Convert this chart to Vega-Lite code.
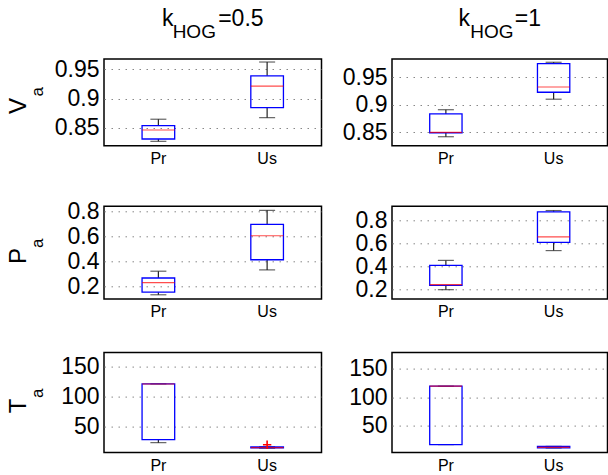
{
  "$schema": "https://vega.github.io/schema/vega-lite/v6.json",
  "background": "white",
  "padding": {"left": 6, "top": 7, "right": 0, "bottom": 0},
  "config": {
    "font": "Liberation Sans",
    "view": {"stroke": "black", "strokeWidth": 1.5},
    "axisY": {"labelFontSize": 23, "labelColor": "black", "labelFont": "Liberation Sans", "labelPadding": 5, "domain": false, "ticks": false, "grid": true, "gridColor": "#888888", "gridDash": [1.5, 5.5], "gridWidth": 1},
    "axisX": {"labelFontSize": 16, "labelColor": "black", "labelFont": "Liberation Sans", "labelPadding": 5, "domain": false, "ticks": false, "grid": false, "labelAngle": 0}
  },
  "datasets": {
    "box": [
      {"m": "V", "k": 0.5, "g": "Pr", "lo": 0.8265, "q1": 0.8305, "med": 0.846, "q3": 0.8534, "hi": 0.8645},
      {"m": "V", "k": 0.5, "g": "Us", "lo": 0.8672, "q1": 0.8845, "med": 0.9214, "q3": 0.939, "hi": 0.9628},
      {"m": "V", "k": 1, "g": "Pr", "lo": 0.8414, "q1": 0.8487, "med": 0.8494, "q3": 0.883, "hi": 0.8908},
      {"m": "V", "k": 1, "g": "Us", "lo": 0.91, "q1": 0.9227, "med": 0.9323, "q3": 0.975, "hi": 0.9775},
      {"m": "P", "k": 0.5, "g": "Pr", "lo": 0.133, "q1": 0.154, "med": 0.23, "q3": 0.267, "hi": 0.3215},
      {"m": "P", "k": 0.5, "g": "Us", "lo": 0.332, "q1": 0.413, "med": 0.605, "q3": 0.696, "hi": 0.808},
      {"m": "P", "k": 1, "g": "Pr", "lo": 0.2, "q1": 0.237, "med": 0.243, "q3": 0.411, "hi": 0.454},
      {"m": "P", "k": 1, "g": "Us", "lo": 0.539, "q1": 0.61, "med": 0.657, "q3": 0.875, "hi": 0.886},
      {"m": "T", "k": 0.5, "g": "Pr", "lo": 23.3, "q1": 28.3, "med": 121, "q3": 121.2, "hi": 121.2},
      {"m": "T", "k": 0.5, "g": "Us", "lo": 14, "q1": 14.5, "med": 15, "q3": 16, "hi": 16.5},
      {"m": "T", "k": 1, "g": "Pr", "lo": 17.2, "q1": 17.2, "med": 119.3, "q3": 119.3, "hi": 119.3},
      {"m": "T", "k": 1, "g": "Us", "lo": 11.3, "q1": 11.3, "med": 12.5, "q3": 14, "hi": 14}
    ],
    "out": [
      {"m": "T", "k": 0.5, "g": "Us", "v": 19.7}
    ]
  },
  "columns": 3,
  "bounds": "flush",
  "align": "each",
  "spacing": {"row": 53.3, "column": 70},
  "concat": [
    {
      "width": 1, "height": 94, "view": {"stroke": null},
      "title": {"text": "\u200b\u00a0V\u00a0\u200b", "subtitle": "\u200b\u00a0\u00a0\u00a0\u00a0\u00a0\u00a0a", "orient": "left", "anchor": "middle", "fontSize": 24, "subtitleFontSize": 17, "font": "Liberation Sans", "subtitleFont": "Liberation Sans", "fontWeight": "normal", "color": "black", "subtitleColor": "black", "offset": -12.5, "subtitlePadding": -1},
      "data": {"values": [{}]},
      "mark": {"type": "text"},
      "encoding": {}
    },
    {
      "width": 217.5, "height": 86.7,
      "title": {"text": "k\u00a0\u00a0\u00a0\u00a0\u00a0\u00a0\u00a0=0.5", "subtitle": "HOG\u00a0\u00a0\u00a0\u00a0\u00a0\u00a0\u00a0\u200b", "frame": "group", "fontSize": 23, "subtitleFontSize": 19, "font": "Liberation Sans", "subtitleFont": "Liberation Sans", "fontWeight": "normal", "color": "black", "subtitleColor": "black", "anchor": "middle", "subtitlePadding": -8, "offset": 16.6},
      "data": {"name": "box"},
      "transform": [{"filter": "datum.m === 'V' && datum.k === 0.5"}],
      "encoding": {"x": {"field": "g", "type": "nominal", "title": null, "scale": {"type": "band", "paddingInner": 0, "paddingOuter": 0, "domain": ["Pr", "Us"]}}},
      "layer": [
        {"mark": {"type": "rule", "color": "#222222", "strokeWidth": 1.2}, "encoding": {"y": {"field": "lo", "type": "quantitative", "title": null, "scale": {"domain": [0.819, 0.968], "nice": false, "zero": false}, "axis": {"values": [0.85, 0.9, 0.95], "format": "~r"}}, "y2": {"field": "q1"}}},
        {"mark": {"type": "rule", "color": "#222222", "strokeWidth": 1.2}, "encoding": {"y": {"field": "q3", "type": "quantitative", "title": null, "scale": {"domain": [0.819, 0.968], "nice": false, "zero": false}, "axis": {"values": [0.85, 0.9, 0.95], "format": "~r"}}, "y2": {"field": "hi"}}},
        {"mark": {"type": "tick", "color": "#222222", "size": 16, "thickness": 1.2}, "encoding": {"y": {"field": "lo", "type": "quantitative", "title": null, "scale": {"domain": [0.819, 0.968], "nice": false, "zero": false}, "axis": {"values": [0.85, 0.9, 0.95], "format": "~r"}}}},
        {"mark": {"type": "tick", "color": "#222222", "size": 16, "thickness": 1.2}, "encoding": {"y": {"field": "hi", "type": "quantitative", "title": null, "scale": {"domain": [0.819, 0.968], "nice": false, "zero": false}, "axis": {"values": [0.85, 0.9, 0.95], "format": "~r"}}}},
        {"mark": {"type": "bar", "width": {"band": 0.3}, "fillOpacity": 0, "stroke": "#0000ff", "strokeWidth": 1.3}, "encoding": {"y": {"field": "q1", "type": "quantitative", "title": null, "scale": {"domain": [0.819, 0.968], "nice": false, "zero": false}, "axis": {"values": [0.85, 0.9, 0.95], "format": "~r"}}, "y2": {"field": "q3"}}},
        {"mark": {"type": "tick", "color": "#ff0000", "size": 32.6, "thickness": 1.2}, "encoding": {"y": {"field": "med", "type": "quantitative", "title": null, "scale": {"domain": [0.819, 0.968], "nice": false, "zero": false}, "axis": {"values": [0.85, 0.9, 0.95], "format": "~r"}}}}
      ]
    },
    {
      "width": 215.5, "height": 86.7,
      "title": {"text": "k\u00a0\u00a0\u00a0\u00a0\u00a0\u00a0\u00a0=1", "subtitle": "HOG\u00a0\u00a0\u00a0\u200b", "frame": "group", "fontSize": 23, "subtitleFontSize": 19, "font": "Liberation Sans", "subtitleFont": "Liberation Sans", "fontWeight": "normal", "color": "black", "subtitleColor": "black", "anchor": "middle", "subtitlePadding": -8, "offset": 16.6},
      "data": {"name": "box"},
      "transform": [{"filter": "datum.m === 'V' && datum.k === 1"}],
      "encoding": {"x": {"field": "g", "type": "nominal", "title": null, "scale": {"type": "band", "paddingInner": 0, "paddingOuter": 0, "domain": ["Pr", "Us"]}}},
      "layer": [
        {"mark": {"type": "rule", "color": "#222222", "strokeWidth": 1.2}, "encoding": {"y": {"field": "lo", "type": "quantitative", "title": null, "scale": {"domain": [0.825, 0.9835], "nice": false, "zero": false}, "axis": {"values": [0.85, 0.9, 0.95], "format": "~r"}}, "y2": {"field": "q1"}}},
        {"mark": {"type": "rule", "color": "#222222", "strokeWidth": 1.2}, "encoding": {"y": {"field": "q3", "type": "quantitative", "title": null, "scale": {"domain": [0.825, 0.9835], "nice": false, "zero": false}, "axis": {"values": [0.85, 0.9, 0.95], "format": "~r"}}, "y2": {"field": "hi"}}},
        {"mark": {"type": "tick", "color": "#222222", "size": 16, "thickness": 1.2}, "encoding": {"y": {"field": "lo", "type": "quantitative", "title": null, "scale": {"domain": [0.825, 0.9835], "nice": false, "zero": false}, "axis": {"values": [0.85, 0.9, 0.95], "format": "~r"}}}},
        {"mark": {"type": "tick", "color": "#222222", "size": 16, "thickness": 1.2}, "encoding": {"y": {"field": "hi", "type": "quantitative", "title": null, "scale": {"domain": [0.825, 0.9835], "nice": false, "zero": false}, "axis": {"values": [0.85, 0.9, 0.95], "format": "~r"}}}},
        {"mark": {"type": "bar", "width": {"band": 0.3}, "fillOpacity": 0, "stroke": "#0000ff", "strokeWidth": 1.3}, "encoding": {"y": {"field": "q1", "type": "quantitative", "title": null, "scale": {"domain": [0.825, 0.9835], "nice": false, "zero": false}, "axis": {"values": [0.85, 0.9, 0.95], "format": "~r"}}, "y2": {"field": "q3"}}},
        {"mark": {"type": "tick", "color": "#ff0000", "size": 32.3, "thickness": 1.2}, "encoding": {"y": {"field": "med", "type": "quantitative", "title": null, "scale": {"domain": [0.825, 0.9835], "nice": false, "zero": false}, "axis": {"values": [0.85, 0.9, 0.95], "format": "~r"}}}}
      ]
    },
    {
      "width": 1, "height": 92.6, "view": {"stroke": null},
      "title": {"text": "P\u00a0\u200b", "subtitle": "\u200b\u00a0\u00a0\u00a0\u00a0a", "orient": "left", "anchor": "middle", "fontSize": 24, "subtitleFontSize": 17, "font": "Liberation Sans", "subtitleFont": "Liberation Sans", "fontWeight": "normal", "color": "black", "subtitleColor": "black", "offset": -12.5, "subtitlePadding": -1},
      "data": {"values": [{}]},
      "mark": {"type": "text"},
      "encoding": {}
    },
    {
      "width": 217.5, "height": 92.6,
      "data": {"name": "box"},
      "transform": [{"filter": "datum.m === 'P' && datum.k === 0.5"}],
      "encoding": {"x": {"field": "g", "type": "nominal", "title": null, "scale": {"type": "band", "paddingInner": 0, "paddingOuter": 0, "domain": ["Pr", "Us"]}}},
      "layer": [
        {"mark": {"type": "rule", "color": "#222222", "strokeWidth": 1.2}, "encoding": {"y": {"field": "lo", "type": "quantitative", "title": null, "scale": {"domain": [0.1, 0.8405], "nice": false, "zero": false}, "axis": {"values": [0.2, 0.4, 0.6, 0.8], "format": "~r"}}, "y2": {"field": "q1"}}},
        {"mark": {"type": "rule", "color": "#222222", "strokeWidth": 1.2}, "encoding": {"y": {"field": "q3", "type": "quantitative", "title": null, "scale": {"domain": [0.1, 0.8405], "nice": false, "zero": false}, "axis": {"values": [0.2, 0.4, 0.6, 0.8], "format": "~r"}}, "y2": {"field": "hi"}}},
        {"mark": {"type": "tick", "color": "#222222", "size": 16, "thickness": 1.2}, "encoding": {"y": {"field": "lo", "type": "quantitative", "title": null, "scale": {"domain": [0.1, 0.8405], "nice": false, "zero": false}, "axis": {"values": [0.2, 0.4, 0.6, 0.8], "format": "~r"}}}},
        {"mark": {"type": "tick", "color": "#222222", "size": 16, "thickness": 1.2}, "encoding": {"y": {"field": "hi", "type": "quantitative", "title": null, "scale": {"domain": [0.1, 0.8405], "nice": false, "zero": false}, "axis": {"values": [0.2, 0.4, 0.6, 0.8], "format": "~r"}}}},
        {"mark": {"type": "bar", "width": {"band": 0.3}, "fillOpacity": 0, "stroke": "#0000ff", "strokeWidth": 1.3}, "encoding": {"y": {"field": "q1", "type": "quantitative", "title": null, "scale": {"domain": [0.1, 0.8405], "nice": false, "zero": false}, "axis": {"values": [0.2, 0.4, 0.6, 0.8], "format": "~r"}}, "y2": {"field": "q3"}}},
        {"mark": {"type": "tick", "color": "#ff0000", "size": 32.6, "thickness": 1.2}, "encoding": {"y": {"field": "med", "type": "quantitative", "title": null, "scale": {"domain": [0.1, 0.8405], "nice": false, "zero": false}, "axis": {"values": [0.2, 0.4, 0.6, 0.8], "format": "~r"}}}}
      ]
    },
    {
      "width": 215.5, "height": 92.6,
      "data": {"name": "box"},
      "transform": [{"filter": "datum.m === 'P' && datum.k === 1"}],
      "encoding": {"x": {"field": "g", "type": "nominal", "title": null, "scale": {"type": "band", "paddingInner": 0, "paddingOuter": 0, "domain": ["Pr", "Us"]}}},
      "layer": [
        {"mark": {"type": "rule", "color": "#222222", "strokeWidth": 1.2}, "encoding": {"y": {"field": "lo", "type": "quantitative", "title": null, "scale": {"domain": [0.12, 0.923], "nice": false, "zero": false}, "axis": {"values": [0.2, 0.4, 0.6, 0.8], "format": "~r"}}, "y2": {"field": "q1"}}},
        {"mark": {"type": "rule", "color": "#222222", "strokeWidth": 1.2}, "encoding": {"y": {"field": "q3", "type": "quantitative", "title": null, "scale": {"domain": [0.12, 0.923], "nice": false, "zero": false}, "axis": {"values": [0.2, 0.4, 0.6, 0.8], "format": "~r"}}, "y2": {"field": "hi"}}},
        {"mark": {"type": "tick", "color": "#222222", "size": 16, "thickness": 1.2}, "encoding": {"y": {"field": "lo", "type": "quantitative", "title": null, "scale": {"domain": [0.12, 0.923], "nice": false, "zero": false}, "axis": {"values": [0.2, 0.4, 0.6, 0.8], "format": "~r"}}}},
        {"mark": {"type": "tick", "color": "#222222", "size": 16, "thickness": 1.2}, "encoding": {"y": {"field": "hi", "type": "quantitative", "title": null, "scale": {"domain": [0.12, 0.923], "nice": false, "zero": false}, "axis": {"values": [0.2, 0.4, 0.6, 0.8], "format": "~r"}}}},
        {"mark": {"type": "bar", "width": {"band": 0.3}, "fillOpacity": 0, "stroke": "#0000ff", "strokeWidth": 1.3}, "encoding": {"y": {"field": "q1", "type": "quantitative", "title": null, "scale": {"domain": [0.12, 0.923], "nice": false, "zero": false}, "axis": {"values": [0.2, 0.4, 0.6, 0.8], "format": "~r"}}, "y2": {"field": "q3"}}},
        {"mark": {"type": "tick", "color": "#ff0000", "size": 32.3, "thickness": 1.2}, "encoding": {"y": {"field": "med", "type": "quantitative", "title": null, "scale": {"domain": [0.12, 0.923], "nice": false, "zero": false}, "axis": {"values": [0.2, 0.4, 0.6, 0.8], "format": "~r"}}}}
      ]
    },
    {
      "width": 1, "height": 100, "view": {"stroke": null},
      "title": {"text": "T\u00a0\u200b", "subtitle": "\u200b\u00a0\u00a0\u00a0\u00a0a", "orient": "left", "anchor": "middle", "fontSize": 24, "subtitleFontSize": 17, "font": "Liberation Sans", "subtitleFont": "Liberation Sans", "fontWeight": "normal", "color": "black", "subtitleColor": "black", "offset": -12.5, "subtitlePadding": -1},
      "data": {"values": [{}]},
      "mark": {"type": "text"},
      "encoding": {}
    },
    {
      "width": 217.5, "height": 100,
      "data": {"name": "box"},
      "transform": [{"filter": "datum.m === 'T' && datum.k === 0.5"}],
      "encoding": {"x": {"field": "g", "type": "nominal", "title": null, "scale": {"type": "band", "paddingInner": 0, "paddingOuter": 0, "domain": ["Pr", "Us"]}}},
      "layer": [
        {"mark": {"type": "rule", "color": "#222222", "strokeWidth": 1.2}, "encoding": {"y": {"field": "lo", "type": "quantitative", "title": null, "scale": {"domain": [6.7, 173.3], "nice": false, "zero": false}, "axis": {"values": [50, 100, 150], "format": "~r"}}, "y2": {"field": "q1"}}},
        {"mark": {"type": "rule", "color": "#222222", "strokeWidth": 1.2}, "encoding": {"y": {"field": "q3", "type": "quantitative", "title": null, "scale": {"domain": [6.7, 173.3], "nice": false, "zero": false}, "axis": {"values": [50, 100, 150], "format": "~r"}}, "y2": {"field": "hi"}}},
        {"mark": {"type": "tick", "color": "#222222", "size": 16, "thickness": 1.2}, "encoding": {"y": {"field": "lo", "type": "quantitative", "title": null, "scale": {"domain": [6.7, 173.3], "nice": false, "zero": false}, "axis": {"values": [50, 100, 150], "format": "~r"}}}},
        {"mark": {"type": "tick", "color": "#222222", "size": 16, "thickness": 1.2}, "encoding": {"y": {"field": "hi", "type": "quantitative", "title": null, "scale": {"domain": [6.7, 173.3], "nice": false, "zero": false}, "axis": {"values": [50, 100, 150], "format": "~r"}}}},
        {"mark": {"type": "bar", "width": {"band": 0.3}, "fillOpacity": 0, "stroke": "#0000ff", "strokeWidth": 1.3}, "encoding": {"y": {"field": "q1", "type": "quantitative", "title": null, "scale": {"domain": [6.7, 173.3], "nice": false, "zero": false}, "axis": {"values": [50, 100, 150], "format": "~r"}}, "y2": {"field": "q3"}}},
        {"mark": {"type": "tick", "color": "#ff0000", "size": 32.6, "thickness": 1.2}, "encoding": {"y": {"field": "med", "type": "quantitative", "title": null, "scale": {"domain": [6.7, 173.3], "nice": false, "zero": false}, "axis": {"values": [50, 100, 150], "format": "~r"}}}},
        {"data": {"name": "out"}, "mark": {"type": "point", "shape": "M-1,0H1M0,-1V1", "filled": false, "stroke": "#ff0000", "strokeWidth": 1.6, "size": 70, "opacity": 1}, "encoding": {"y": {"field": "v", "type": "quantitative", "title": null, "scale": {"domain": [6.7, 173.3], "nice": false, "zero": false}, "axis": {"values": [50, 100, 150], "format": "~r"}}}}
      ]
    },
    {
      "width": 215.5, "height": 100,
      "data": {"name": "box"},
      "transform": [{"filter": "datum.m === 'T' && datum.k === 1"}],
      "encoding": {"x": {"field": "g", "type": "nominal", "title": null, "scale": {"type": "band", "paddingInner": 0, "paddingOuter": 0, "domain": ["Pr", "Us"]}}},
      "layer": [
        {"mark": {"type": "rule", "color": "#222222", "strokeWidth": 1.2}, "encoding": {"y": {"field": "lo", "type": "quantitative", "title": null, "scale": {"domain": [3.2, 178], "nice": false, "zero": false}, "axis": {"values": [50, 100, 150], "format": "~r"}}, "y2": {"field": "q1"}}},
        {"mark": {"type": "rule", "color": "#222222", "strokeWidth": 1.2}, "encoding": {"y": {"field": "q3", "type": "quantitative", "title": null, "scale": {"domain": [3.2, 178], "nice": false, "zero": false}, "axis": {"values": [50, 100, 150], "format": "~r"}}, "y2": {"field": "hi"}}},
        {"mark": {"type": "tick", "color": "#222222", "size": 16, "thickness": 1.2}, "encoding": {"y": {"field": "lo", "type": "quantitative", "title": null, "scale": {"domain": [3.2, 178], "nice": false, "zero": false}, "axis": {"values": [50, 100, 150], "format": "~r"}}}},
        {"mark": {"type": "tick", "color": "#222222", "size": 16, "thickness": 1.2}, "encoding": {"y": {"field": "hi", "type": "quantitative", "title": null, "scale": {"domain": [3.2, 178], "nice": false, "zero": false}, "axis": {"values": [50, 100, 150], "format": "~r"}}}},
        {"mark": {"type": "bar", "width": {"band": 0.3}, "fillOpacity": 0, "stroke": "#0000ff", "strokeWidth": 1.3}, "encoding": {"y": {"field": "q1", "type": "quantitative", "title": null, "scale": {"domain": [3.2, 178], "nice": false, "zero": false}, "axis": {"values": [50, 100, 150], "format": "~r"}}, "y2": {"field": "q3"}}},
        {"mark": {"type": "tick", "color": "#ff0000", "size": 32.3, "thickness": 1.2}, "encoding": {"y": {"field": "med", "type": "quantitative", "title": null, "scale": {"domain": [3.2, 178], "nice": false, "zero": false}, "axis": {"values": [50, 100, 150], "format": "~r"}}}}
      ]
    }
  ]
}
